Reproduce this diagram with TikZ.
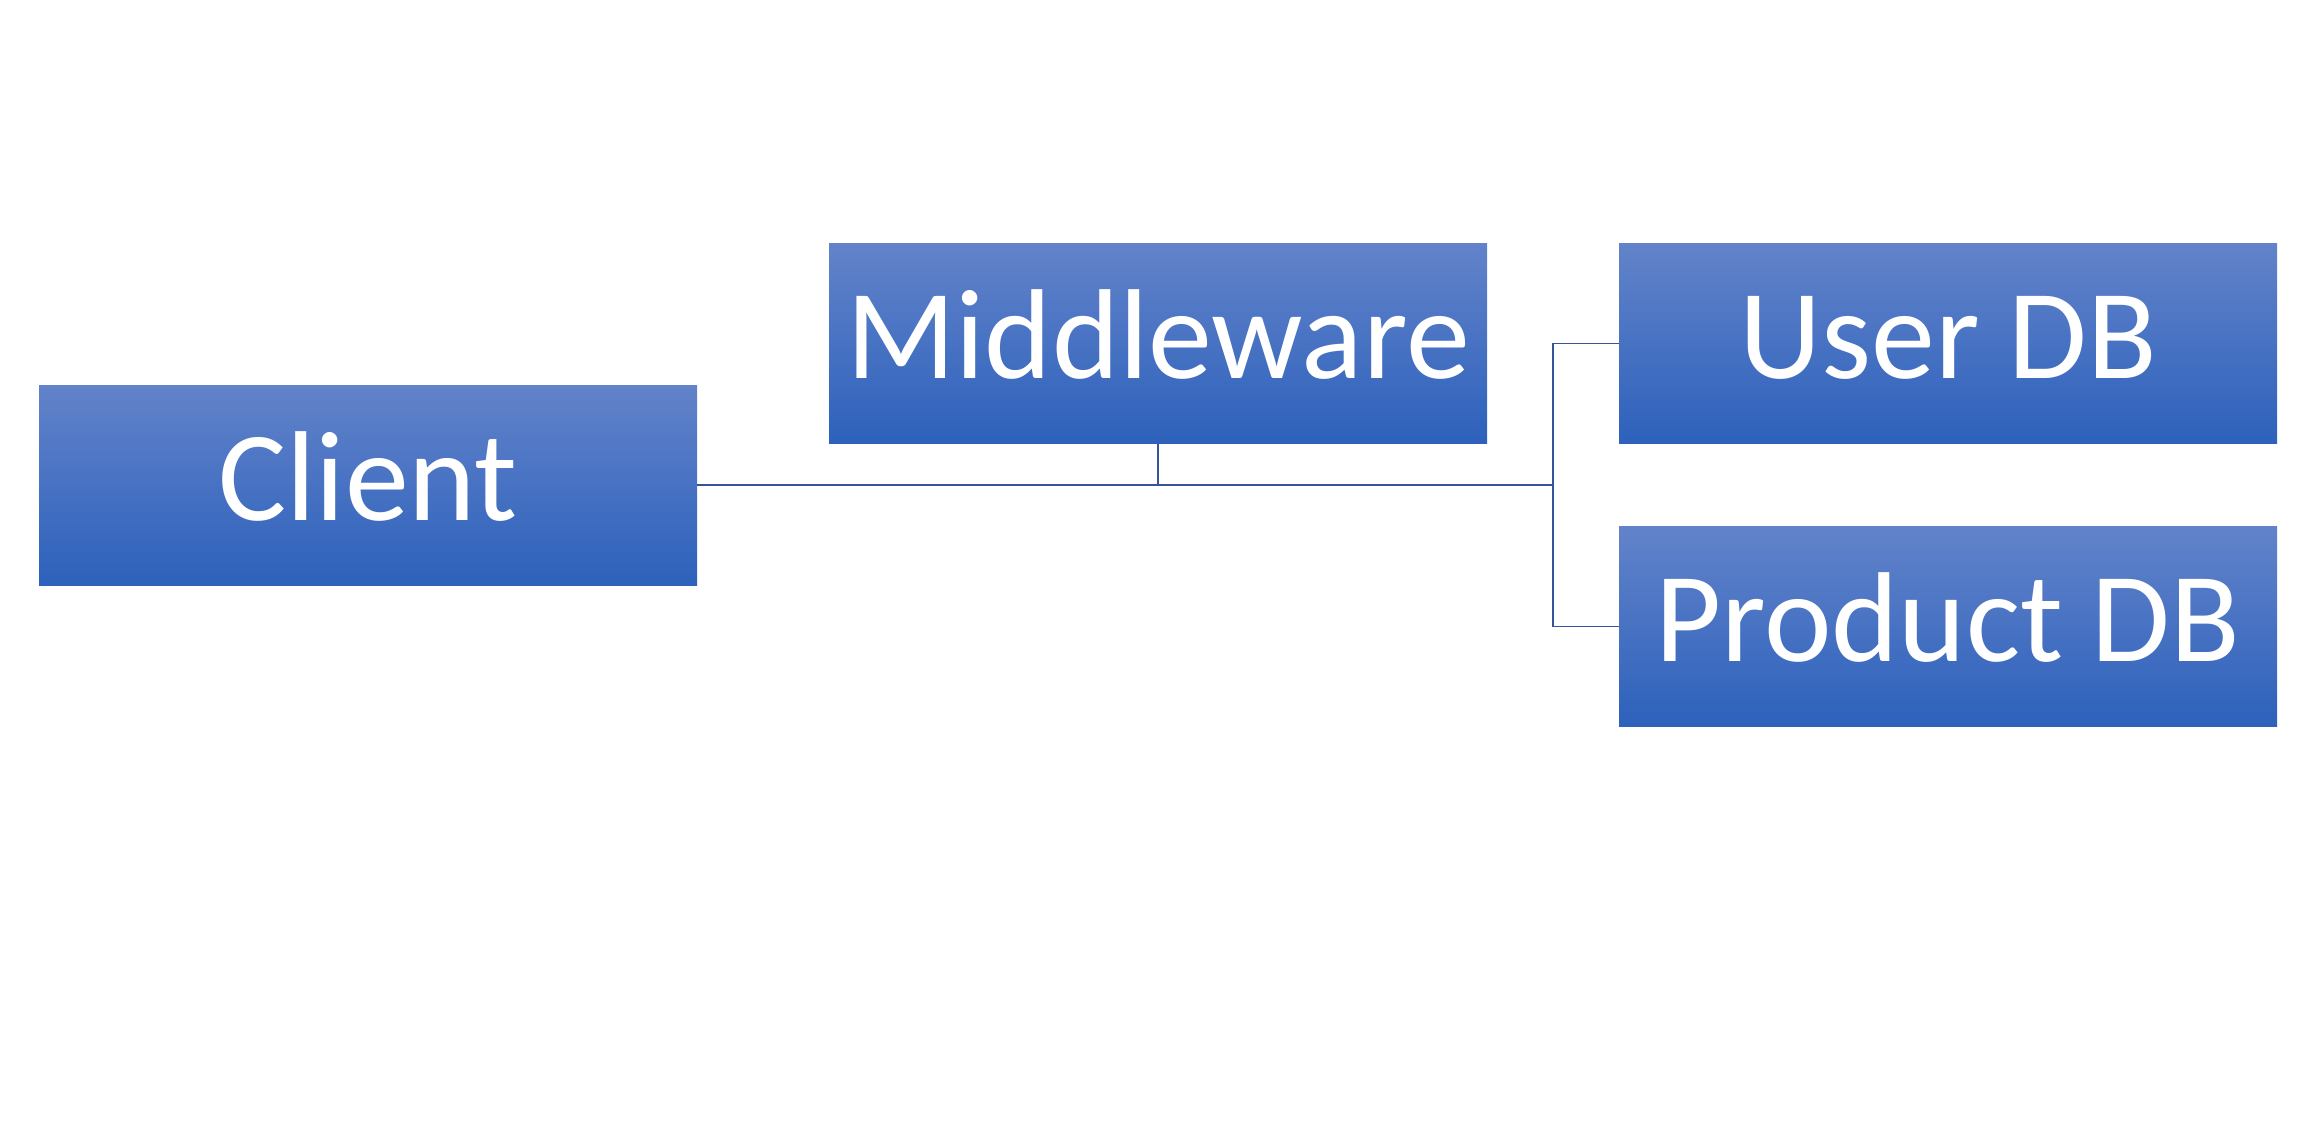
\documentclass[tikz,border=0pt]{standalone}
\usepackage{fontspec}
\setmainfont{Carlito}
\usepackage{tikz}
\usetikzlibrary{arrows}

\definecolor{boxtop}{HTML}{6283CA}
\definecolor{boxbot}{HTML}{2D61BB}
\definecolor{linkblue}{HTML}{34559A}

\begin{document}
\begin{tikzpicture}[x=0.5pt,y=-0.5pt,node distance=395pt,
    block/.style={rectangle,minimum width=329pt,minimum height=100pt,inner sep=0pt,
      top color=boxtop,bottom color=boxbot,text=white,font=\fontsize{64}{64}\selectfont,
      text height=50pt,text depth=15pt},
    link/.style={draw=linkblue,line width=0.85pt}]
  \useasboundingbox (0,0) rectangle (2314,1134);
  \node[block] (client)      at (368,485)     {Client};
  \node[block] (mw)          at (1158,343.5)  {Middleware};
  \node[block] (userdb)  [right of=mw]       {User DB};
  \node[block] (proddb)  [below of=userdb,node distance=141.5pt] {Product DB};
  \coordinate (hub) at (1553,485);

  \path[link]
        (client.east) -- (hub)
        (mw.south) -- (mw.south |- hub)
        (userdb.west) -| (hub) |- (proddb.west);
\end{tikzpicture}
\end{document}
